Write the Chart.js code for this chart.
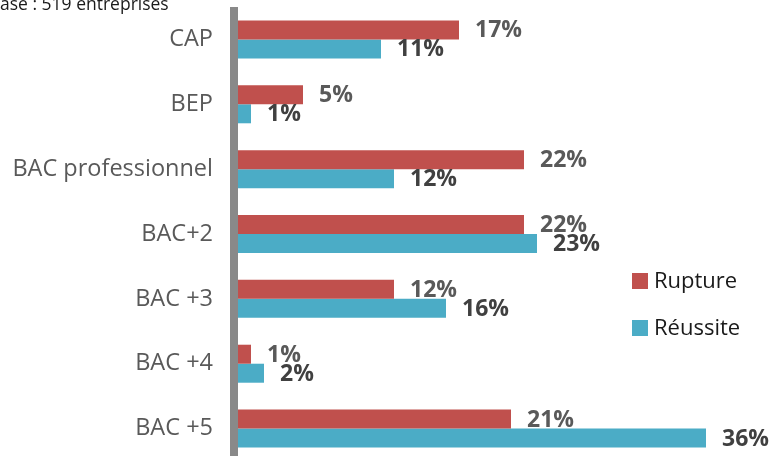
<!DOCTYPE html>
<html>
<head>
<meta charset="utf-8">
<script src="https://cdn.jsdelivr.net/npm/chart.js@4"></script>
<style>
  html, body { margin: 0; padding: 0; background: #fff; overflow: hidden; }
  #wrap { position: relative; width: 773px; height: 461px; }
</style>
</head>
<body>
<div id="wrap"><canvas id="chart"></canvas></div>
<script>
/* ─── data ─────────────────────────────────────────── */
const categories = ['CAP', 'BEP', 'BAC professionnel', 'BAC+2', 'BAC +3', 'BAC +4', 'BAC +5'];
const rupture    = [17, 5, 22, 22, 12, 1, 21];   // %
const reussite   = [11, 1, 12, 23, 16, 2, 36];   // %
const seriesNames = ['Rupture', 'Réussite'];
const subtitle = 'ase : 519 entreprises';

const RED  = '#C0504D';
const BLUE = '#4BACC6';
const FONT = "'Open Sans', sans-serif";

/* ─── extras drawn on top: axis bar, value labels, legend, subtitle ─── */
const extras = {
  id: 'extras',
  afterDatasetsDraw(chart) {
    const c = chart.ctx, area = chart.chartArea;
    c.save();

    // thick grey vertical axis
    c.fillStyle = '#898989';
    c.fillRect(area.left - 8, 7, 8, chart.height);

    // value labels
    c.font = 'bold 23px ' + FONT;
    c.textAlign = 'left';
    c.textBaseline = 'middle';
    chart.data.datasets.forEach((ds, i) => {
      c.fillStyle = i === 0 ? '#595959' : '#404040';
      chart.getDatasetMeta(i).data.forEach((bar, j) => {
        c.fillText(ds.data[j] + '%', bar.x + 16, bar.y + 1);
      });
    });

    // legend
    c.font = '22px ' + FONT;
    c.textBaseline = 'alphabetic';
    const legendTop = [273, 320];
    chart.data.datasets.forEach((ds, i) => {
      c.fillStyle = ds.backgroundColor;
      c.fillRect(632, legendTop[i], 16, 16);
      c.fillStyle = '#1a1a1a';
      c.fillText(ds.label, 654, legendTop[i] + 15);
    });

    // subtitle (cut at the edge, as in the source)
    c.font = '17.5px ' + FONT;
    c.fillStyle = '#1a1a1a';
    c.fillText(subtitle, 0, 10);

    c.restore();
  }
};

new Chart(document.getElementById('chart'), {
  type: 'bar',
  data: {
    labels: categories,
    datasets: [
      { label: seriesNames[0], data: rupture,  backgroundColor: RED },
      { label: seriesNames[1], data: reussite, backgroundColor: BLUE }
    ]
  },
  options: {
    indexAxis: 'y',
    responsive: true,
    maintainAspectRatio: false,
    animation: false,
    categoryPercentage: 0.586,
    barPercentage: 1.0,
    layout: { padding: { top: 7, right: 15, bottom: 0, left: 0 } },
    scales: {
      x: { display: false, min: 0, max: 40 },
      y: {
        grid:   { display: false, drawTicks: false },
        border: { display: false },
        ticks:  { color: '#595959', font: { family: FONT, size: 23.5 }, padding: 25 },
        afterFit(scale) {
          scale.width = 238;
          scale.paddingTop = 0;
          scale.paddingBottom = 0;
        }
      }
    },
    plugins: {
      legend:  { display: false },
      tooltip: { enabled: false }
    }
  },
  plugins: [extras]
});
</script>
</body>
</html>
